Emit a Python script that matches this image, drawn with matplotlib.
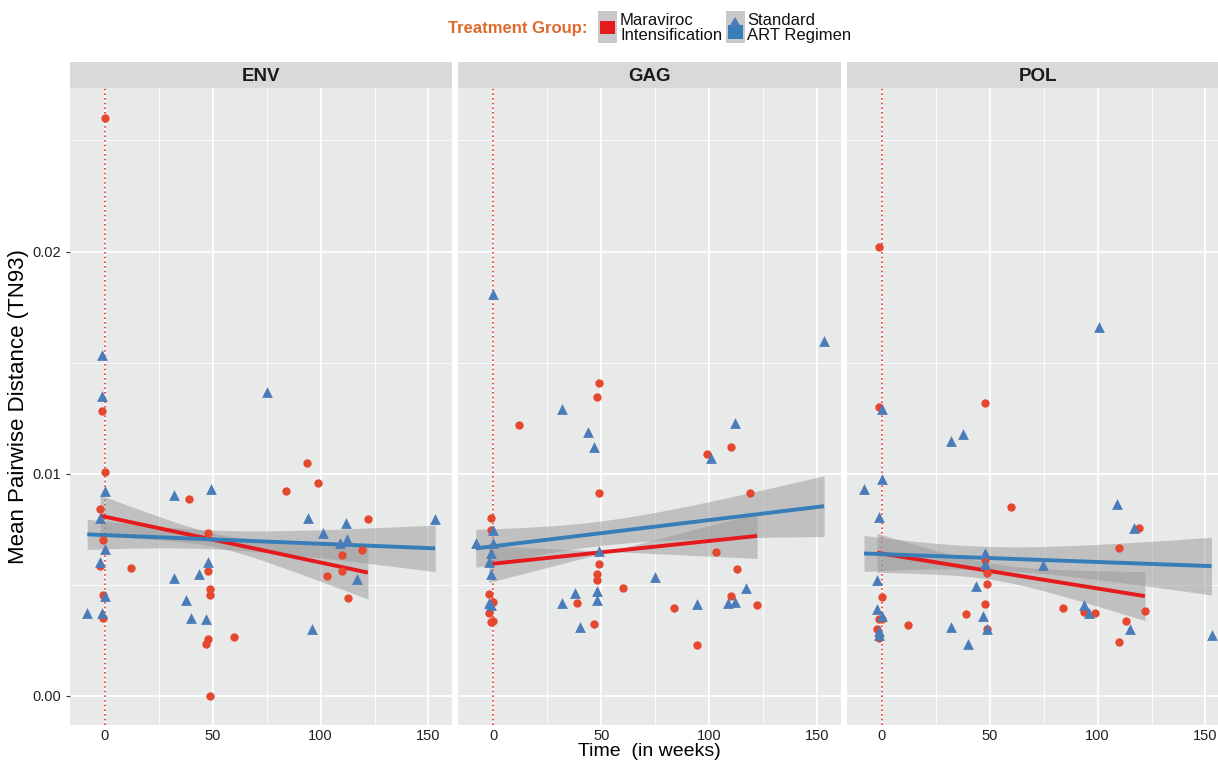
import numpy as np
import matplotlib
matplotlib.use("Agg")
import matplotlib.pyplot as plt
from matplotlib.patches import Rectangle, Polygon

plt.rcParams['font.family'] = ['Liberation Sans', 'DejaVu Sans']

# Mean pairwise distance (TN93) vs time in weeks, per gene region and treatment group
genes = ['ENV', 'GAG', 'POL']

env_mvc_t = [0, -1.2, 0, -2.2, -1.1, -2.2, -1.1, -1.1, 38.9, 48.0, 11.9, 48.0, 48.9, 48.9,
             48.0, 46.8, 59.7, 48.9, 93.8, 98.9, 83.9, 121.9, 119.0, 110.0, 110.0, 102.9, 112.8]
env_mvc_d = [0.0260, 0.0128, 0.01008, 0.0084, 0.00703, 0.00586, 0.00455, 0.0035, 0.00885,
             0.00734, 0.00577, 0.00563, 0.00482, 0.00455, 0.00255, 0.00234, 0.00267, 0.0,
             0.01049, 0.00957, 0.00923, 0.00794, 0.00658, 0.00632, 0.00562, 0.00539, 0.00442]
env_art_t = [-1.2, -1.2, 0, -2.2, 0, -2.2, 0, -8.2, -1.2, 31.9, 49.1, 31.9, 43.8, 48.0, 37.6,
             40.0, 46.8, 75.0, 94.0, 153.1, 111.9, 100.9, 108.9, 112.0, 116.8, 96.0]
env_art_d = [0.01533, 0.0135, 0.00921, 0.00799, 0.0066, 0.00604, 0.0045, 0.00374, 0.00374,
             0.00906, 0.00933, 0.00532, 0.0055, 0.00604, 0.0043, 0.0035, 0.00346, 0.01368,
             0.00801, 0.00794, 0.00776, 0.00735, 0.00689, 0.00704, 0.00526, 0.00303]

gag_mvc_t = [49.1, 48.0, 12.0, 49.1, -1.1, -1.1, 49.1, 48.0, 48.0, 59.9, -2.0, 0, -2.0, -1.1,
             0, 38.9, 46.9, 110.0, 99.1, 119.0, 103.1, 113.0, 110.0, 122.1, 83.9, 94.1]
gag_mvc_d = [0.01408, 0.01345, 0.01217, 0.00914, 0.00799, 0.00746, 0.00592, 0.00548, 0.00521,
             0.00487, 0.00457, 0.00424, 0.00372, 0.00334, 0.00337, 0.00416, 0.00322, 0.01118,
             0.01089, 0.00915, 0.00649, 0.00571, 0.00451, 0.0041, 0.00397, 0.00228]
gag_art_t = [0, 31.9, 44.0, 46.9, 0, -8.0, 0, -1.1, -1.9, -1.1, 49.1, 48.0, -2.0, -1.1, 38.0,
             31.9, 48.0, 40.0, 153.1, 112.0, 100.9, 75.0, 117.1, 108.8, 112.0, 94.1]
gag_art_d = [0.01807, 0.01293, 0.01187, 0.01118, 0.00746, 0.00689, 0.00686, 0.00644, 0.00601,
             0.00548, 0.00653, 0.00473, 0.00416, 0.00409, 0.00461, 0.00416, 0.00431, 0.00311,
             0.01597, 0.01228, 0.01071, 0.00533, 0.00484, 0.00416, 0.00422, 0.00413]

pol_mvc_t = [-1.2, -1.2, 47.8, 59.7, 47.8, 48.9, 48.9, 0, 47.8, -1.2, 0, 38.9, 11.9, -2.3,
             48.9, -1.2, 119.0, 109.9, 83.8, 93.8, 98.9, 121.9, 113.0, 109.9]
pol_mvc_d = [0.02019, 0.013, 0.01318, 0.00851, 0.00611, 0.00551, 0.00503, 0.00445, 0.00412,
             0.00345, 0.00345, 0.00367, 0.00319, 0.00301, 0.003, 0.00259, 0.00754, 0.00667,
             0.00396, 0.00376, 0.00372, 0.00383, 0.00337, 0.00244]
pol_art_t = [0, 31.8, 37.8, 0, -8.3, -1.2, 47.8, 47.8, -2.3, 43.8, -2.3, 0, 46.8, 31.8, -1.2,
             48.9, -1.2, 39.8, 100.8, 108.8, 116.8, 74.7, 93.8, 95.8, 114.8, 152.8]
pol_art_d = [0.01293, 0.01146, 0.01178, 0.00975, 0.00929, 0.00806, 0.00644, 0.00593, 0.00521,
             0.00494, 0.0039, 0.00361, 0.0036, 0.00309, 0.00292, 0.003, 0.00274, 0.00234,
             0.0166, 0.00862, 0.00755, 0.00589, 0.00409, 0.00372, 0.00301, 0.00274]

mvc_t = [env_mvc_t, gag_mvc_t, pol_mvc_t]
mvc_d = [env_mvc_d, gag_mvc_d, pol_mvc_d]
art_t = [env_art_t, gag_art_t, pol_art_t]
art_d = [env_art_d, gag_art_d, pol_art_d]

# linear trend per panel: fitted value at first / last week, and 95% CI half-width there
mvc_fit_start = [0.00811, 0.00593, 0.00644]
mvc_fit_end = [0.00555, 0.00720, 0.00449]
mvc_ci_start = [0.00093, 0.00064, 0.00088]
mvc_ci_end = [0.00119, 0.00087, 0.00110]
art_fit_start = [0.00727, 0.00664, 0.00641]
art_fit_end = [0.00664, 0.00854, 0.00584]
art_ci_start = [0.00068, 0.00086, 0.00081]
art_ci_end = [0.00105, 0.00137, 0.00130]

x_ticks = [0, 50, 100, 150]
y_ticks = [0.00, 0.01, 0.02]

pt_red, pt_blue = '#E5472F', '#4A7CBA'
ln_red, ln_blue = '#E41A1C', '#377EB8'
panel_bg = '#E8E9E9'

W, H = 1218, 762
fig = plt.figure(figsize=(W / 100, H / 100), dpi=100)


def px_rect(x0, y0, x1, y1):
    return [x0 / W, 1 - y1 / H, (x1 - x0) / W, (y1 - y0) / H]


def trend(ax, t, y0, y1, h0, h1, color):
    # straight fit between the end weeks; the CI band widens away from the mean week
    t = np.asarray(t, float)
    ta, tb, tc = t.min(), t.max(), t.mean()
    da, db = (ta - tc) ** 2, (tb - tc) ** 2
    c2 = max((h1 ** 2 - h0 ** 2) / (db - da), 0.0)
    hmin2 = max(h0 ** 2 - c2 * da, 0.0)
    xs = np.linspace(ta, tb, 80)
    fit = y0 + (y1 - y0) * (xs - ta) / (tb - ta)
    hw = np.sqrt(hmin2 + c2 * (xs - tc) ** 2)
    ax.fill_between(xs, fit - hw, fit + hw, color='#999999', alpha=0.5, lw=0, zorder=2)
    ax.plot(xs, fit, color=color, lw=2.8, zorder=3, solid_capstyle='butt')


panels = [(70, 452), (458, 841), (847, 1229)]
for i, gene in enumerate(genes):
    x0, x1 = panels[i]
    ax = fig.add_axes(px_rect(x0, 88, x1, 725))
    ax.set_facecolor(panel_bg)
    ax.set_xlim(-16.2, 160.9)
    ax.set_ylim(-0.00131, 0.02736)
    ax.set_xticks(x_ticks)
    ax.set_yticks(y_ticks)
    ax.set_xticks([25, 75, 125], minor=True)
    ax.set_yticks([0.005, 0.015, 0.025], minor=True)
    ax.grid(which='major', color='white', lw=1.3)
    ax.grid(which='minor', color='white', lw=0.6)
    ax.set_axisbelow(True)
    for sp in ax.spines.values():
        sp.set_visible(False)
    ax.tick_params(axis='x', which='both', length=0, labelsize=10.5, pad=3, colors='#222222')
    ax.tick_params(axis='y', which='minor', length=0)
    if i == 0:
        ax.set_yticklabels(['0.00', '0.01', '0.02'])
        ax.tick_params(axis='y', which='major', length=3, labelsize=10.5, colors='#222222', color='#333333')
    else:
        ax.tick_params(axis='y', which='major', length=0, labelleft=False)

    ax.axvline(0, color='#F03030', lw=1.2, ls=(0, (1, 1.8)), zorder=1.5)

    ax.scatter(mvc_t[i], mvc_d[i], s=36, marker='o', color=pt_red, lw=0, zorder=4)
    ax.scatter(art_t[i], art_d[i], s=60, marker='^', color=pt_blue, lw=0, zorder=4)

    trend(ax, mvc_t[i], mvc_fit_start[i], mvc_fit_end[i], mvc_ci_start[i], mvc_ci_end[i], ln_red)
    trend(ax, art_t[i], art_fit_start[i], art_fit_end[i], art_ci_start[i], art_ci_end[i], ln_blue)

    # facet strip
    sax = fig.add_axes(px_rect(x0, 62, x1, 88))
    sax.set_facecolor('#D9D9D9')
    sax.set_xticks([])
    sax.set_yticks([])
    for sp in sax.spines.values():
        sp.set_visible(False)
    sax.text(0.5, 0.45, gene, ha='center', va='center', fontsize=13.5, fontweight='bold',
             color='#1A1A1A', transform=sax.transAxes)

fig.text(19 / W, 1 - 407 / H, 'Mean Pairwise Distance (TN93)', rotation=90,
         ha='center', va='center', fontsize=16)
fig.text(649 / W, 1 - 752 / H, 'Time  (in weeks)', ha='center', va='center', fontsize=14)

# legend on top
lax = fig.add_axes([0, 0, 1, 1], zorder=-1)
lax.set_xlim(0, W)
lax.set_ylim(H, 0)
lax.axis('off')
lax.text(588, 29, 'Treatment Group:', ha='right', va='center', fontsize=12,
         fontweight='bold', color='#DD6A2C')
lax.add_patch(Rectangle((598, 11), 19, 32, color='#C9C9C9', lw=0))
lax.add_patch(Rectangle((600, 21), 15, 13, color=ln_red, lw=0))
lax.text(620, 28, 'Maraviroc\nIntensification', ha='left', va='center', fontsize=12,
         linespacing=1.05, color='#111111')
lax.add_patch(Rectangle((726, 11), 19, 32, color='#C9C9C9', lw=0))
lax.add_patch(Rectangle((728, 25), 15, 14, color=ln_blue, lw=0))
lax.add_patch(Polygon([[729, 27], [741, 27], [735, 17]], closed=True, color=pt_blue, lw=0))
lax.text(747, 28, 'Standard\nART Regimen', ha='left', va='center', fontsize=12,
         linespacing=1.05, color='#111111')

fig.savefig('out.png', dpi=100)
